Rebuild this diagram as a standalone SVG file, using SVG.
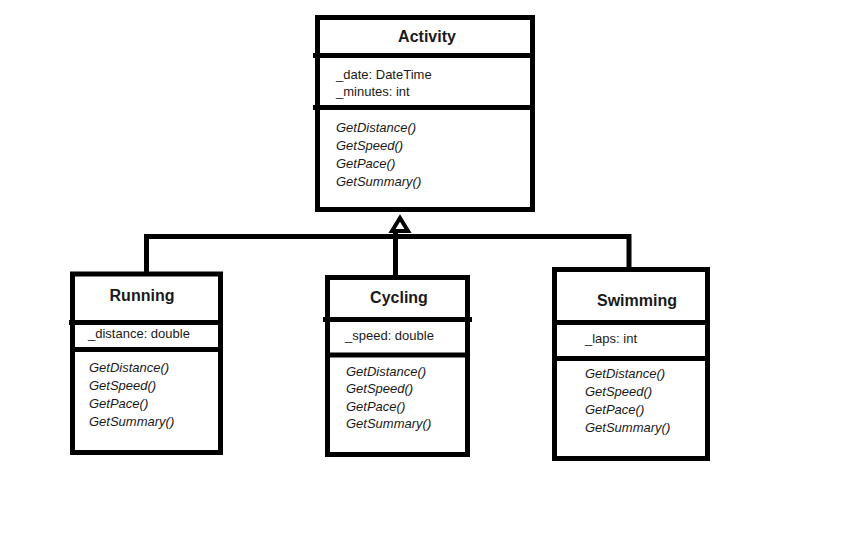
<svg xmlns="http://www.w3.org/2000/svg" width="852" height="556" viewBox="0 0 852 556">
<style>
.box{fill:#fff;stroke:#000;stroke-width:5}
.div{stroke:#000;stroke-width:5}
.conn{fill:none;stroke:#000;stroke-width:5}
.t{font-family:"Liberation Sans",Arial,sans-serif;font-size:16px;font-weight:bold;fill:#1a1a1a;text-anchor:middle}
.a{font-family:"Liberation Sans",Arial,sans-serif;font-size:13px;fill:#1a1a1a}
.m{font-family:"Liberation Sans",Arial,sans-serif;font-size:13px;font-style:italic;fill:#1a1a1a}
</style>
<rect width="852" height="556" fill="#fff"/>
<g id="connectors">
<path class="conn" d="M146.5,274 V236.5 H629 V269"/>
<path class="conn" d="M395.5,277 V231"/>
<polygon points="400,218 392,231 408,231" fill="#fff" stroke="#000" stroke-width="4" stroke-linejoin="miter"/>
</g>
<g id="activity">
<rect class="box" x="317.5" y="17.5" width="215" height="192"/>
<line class="div" x1="313" y1="55.5" x2="535" y2="55.5"/>
<line class="div" x1="313" y1="107.5" x2="535" y2="107.5"/>
<text class="t" x="427" y="42">Activity</text>
<text class="a" x="336" y="79">_date: DateTime</text>
<text class="a" x="336" y="96">_minutes: int</text>
<text class="m" x="336" y="132">GetDistance()</text>
<text class="m" x="336" y="150">GetSpeed()</text>
<text class="m" x="336" y="168">GetPace()</text>
<text class="m" x="336" y="186">GetSummary()</text>
</g>
<g id="running">
<rect class="box" x="72.5" y="274" width="148" height="178.5"/>
<line class="div" x1="69" y1="322.5" x2="222" y2="322.5"/>
<line class="div" x1="72" y1="349.5" x2="222" y2="349.5"/>
<text class="t" x="142" y="301">Running</text>
<text class="a" x="88" y="338">_distance: double</text>
<text class="m" x="89" y="372">GetDistance()</text>
<text class="m" x="89" y="390">GetSpeed()</text>
<text class="m" x="89" y="408">GetPace()</text>
<text class="m" x="89" y="426">GetSummary()</text>
</g>
<g id="cycling">
<rect class="box" x="327.5" y="277.5" width="140" height="177"/>
<line class="div" x1="323" y1="319.5" x2="472" y2="319.5"/>
<line class="div" x1="327" y1="355" x2="470" y2="355"/>
<text class="t" x="399" y="303">Cycling</text>
<text class="a" x="345" y="340">_speed: double</text>
<text class="m" x="346" y="376">GetDistance()</text>
<text class="m" x="346" y="393">GetSpeed()</text>
<text class="m" x="346" y="411">GetPace()</text>
<text class="m" x="346" y="428">GetSummary()</text>
</g>
<g id="swimming">
<rect class="box" x="554.5" y="269.5" width="153" height="189"/>
<line class="div" x1="554" y1="322.5" x2="710" y2="322.5"/>
<line class="div" x1="554" y1="358.5" x2="710" y2="358.5"/>
<text class="t" x="637" y="306">Swimming</text>
<text class="a" x="585" y="343">_laps: int</text>
<text class="m" x="585" y="378">GetDistance()</text>
<text class="m" x="585" y="396">GetSpeed()</text>
<text class="m" x="585" y="414">GetPace()</text>
<text class="m" x="585" y="432">GetSummary()</text>
</g>
</svg>
